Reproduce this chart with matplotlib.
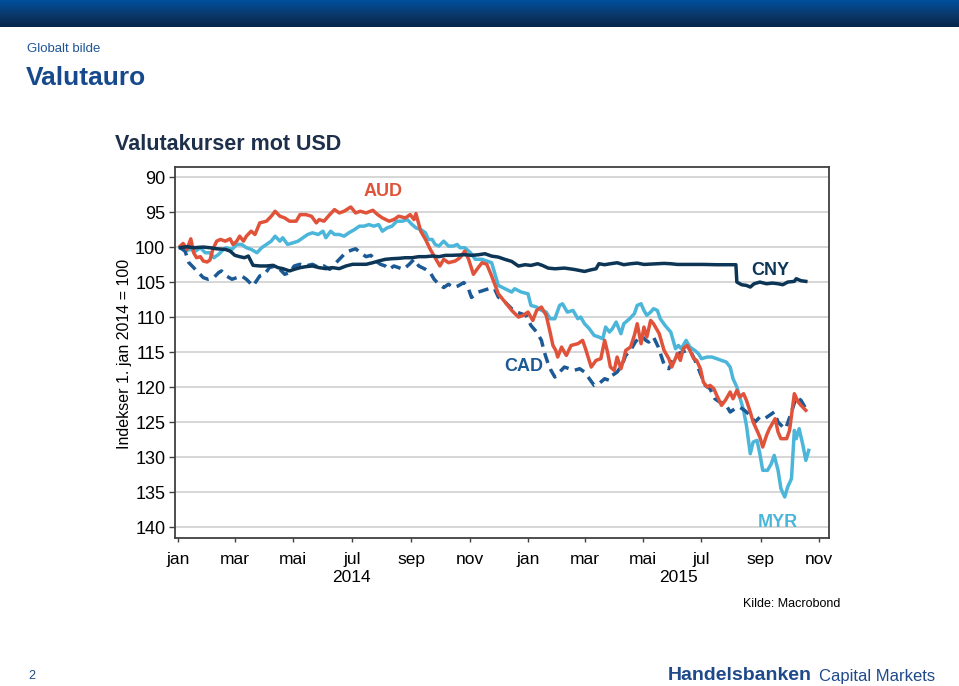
import numpy as np
import matplotlib
matplotlib.use('Agg')
import matplotlib.pyplot as plt
import matplotlib.dates as mdates
from matplotlib.colors import LinearSegmentedColormap

plt.rcParams['font.family'] = ['Liberation Sans', 'DejaVu Sans']

# ---------------- data (days since 1 jan 2014, index 1 jan 2014 = 100) ----------------
aud_days = [2, 5, 9, 13, 16, 19, 23, 26, 30, 33, 36, 40, 44, 49, 54, 57, 61, 64, 68, 71,
            76, 80, 85, 92, 97, 101, 106, 111, 116, 123, 127, 133, 139, 144, 147, 152, 158, 163, 168, 173,
            180, 185, 190, 196, 203, 208, 213, 220, 225, 230, 237, 242, 246, 248, 253, 258, 263, 268, 273, 277,
            282, 289, 294, 299, 303, 308, 313, 317, 322, 327,
            334, 341, 348, 355, 360, 365, 370, 374, 379, 384, 388, 391, 394, 396, 400, 405, 410, 417, 422, 425,
            431, 436, 441, 445, 448, 451, 455, 458, 462, 465, 467, 472, 476, 479, 483, 486, 489, 493, 496, 502,
            507, 512, 515, 521, 524, 527, 531, 534, 538, 541, 545, 548, 552, 555, 559, 562, 567, 571, 576, 579,
            583, 586, 590, 593, 597, 600, 604, 607, 610, 614, 617, 623, 626, 629, 635, 638, 643, 647, 650, 655]
aud_vals = [99.86, 99.48, 100.33, 98.82, 100.81, 101.52, 101.37, 101.99, 102.13, 101.85,
            100.33, 99.15, 98.91, 99.15, 98.82, 99.62, 99.15, 98.44, 99.15, 98.44,
            97.73, 98.2, 96.54, 96.3, 95.59, 94.88, 95.59, 95.83, 96.3, 96.3,
            95.36, 95.36, 95.59, 96.54, 96.07, 96.3, 95.36, 94.64, 95.12, 94.88,
            94.27, 95.12, 94.88, 95.12, 94.74, 95.36, 95.83, 96.3, 96.07, 95.59,
            95.83, 95.36, 96.07, 95.21, 97.73, 98.91, 100.33, 101.52, 102.7, 101.75,
            102.23, 101.99, 101.52, 100.57, 101.75, 103.89, 102.94, 102.23, 102.46, 104.12,
            106.67, 107.86, 109.05, 110, 109.76, 109.29, 110.48, 109.05, 108.57, 109.76,
            112.14, 114.05, 114.76, 115.71, 114.29, 115.48, 114.05, 113.81, 113.33, 114.52,
            117.14, 116.19, 115.95, 113.33, 115, 117.14, 117.62, 115.71, 117.38, 115.95,
            114.76, 114.29, 112.62, 110.95, 113.81, 111.43, 112.86, 110.48, 110.95, 112.38,
            114.76, 115.95, 117.14, 115.24, 116.19, 114.52, 114.05, 114.76, 115.95, 116.19,
            117.38, 119.29, 120, 119.76, 120.24, 121.19, 122.62, 121.9, 120.71, 121.67,
            120.48, 121.43, 120.95, 121.9, 123.57, 125, 126.19, 127.14, 128.57, 126.9,
            125.95, 124.52, 126.43, 127.38, 127.38, 126.19, 120.95, 122.14, 122.62, 123.33]

myr_days = [2, 7, 12, 18, 23, 28, 33, 37, 42, 47, 50, 56, 61, 66, 71, 76, 82, 87, 92, 97,
            101, 106, 109, 114, 120, 125, 130, 135, 140, 146, 151, 154, 159, 163, 168, 173, 178, 184, 189, 194,
            199, 204, 209, 213, 218, 223, 228, 234, 239, 244, 248, 253, 258, 261, 265, 268, 272, 277, 282, 287,
            291, 294, 299, 305, 310, 317, 322, 327,
            334, 341, 348, 351, 358, 365, 368, 374, 379, 384, 388, 393, 398, 401, 406, 412, 417, 420, 424, 429,
            434, 439, 443, 446, 450, 453, 457, 462, 465, 471, 476, 479, 483, 486, 489, 493, 496, 500, 503, 508,
            514, 519, 522, 525, 530, 534, 539, 543, 546, 552, 557, 562, 567, 572, 576, 579, 583, 586, 590, 593,
            597, 600, 604, 607, 610, 615, 619, 622, 626, 629, 633, 636, 640, 643, 645, 648, 652, 655, 658]
myr_vals = [100.09, 100.57, 100.33, 100.57, 100.09, 100.81, 100.81, 101.52, 101.04, 100.33,
            100.09, 100.33, 99.62, 99.62, 100.09, 100.33, 100.81, 100.09, 99.62, 99.15,
            98.44, 99.15, 98.67, 99.62, 99.38, 99.15, 98.67, 98.2, 97.96, 98.2,
            97.73, 98.67, 97.73, 98.2, 98.2, 98.44, 97.96, 97.49, 97.01, 97.01,
            96.78, 97.01, 96.78, 97.73, 97.25, 97.01, 96.3, 96.3, 96.07, 96.78,
            97.25, 97.49, 97.96, 98.91, 98.91, 99.62, 99.86, 99.15, 99.86, 99.86,
            99.62, 100.09, 100.09, 100.81, 101.75, 101.75, 101.99, 102.23,
            105.48, 105.95, 106.43, 105.95, 106.43, 106.67, 108.33, 108.57, 109.05, 109.29,
            110.24, 110.24, 108.33, 108.1, 109.29, 109.05, 110.24, 110, 110.95, 111.67,
            112.62, 112.86, 113.1, 111.43, 112.14, 111.67, 110.71, 112.38, 110.95, 110.24,
            109.52, 108.33, 108.1, 109.05, 109.76, 109.29, 108.81, 109.05, 110.24, 111.19,
            112.14, 114.52, 114.05, 114.52, 113.33, 114.29, 114.76, 115.24, 115.95, 115.71,
            115.71, 115.95, 116.19, 116.43, 117.14, 118.81, 120, 121.43, 123.33, 125.48,
            129.52, 127.86, 127.62, 129.52, 131.9, 131.9, 130.95, 129.76, 131.9, 134.52,
            135.71, 134.29, 133.1, 126.19, 127.38, 125.95, 128.33, 130.48, 129.05]

cny_days = [2, 9, 16, 26, 33, 40, 49, 54, 59, 64, 69, 73, 78, 85, 92, 99, 104, 109, 116, 121,
            127, 133, 140, 147, 154, 161, 168, 175, 182, 189, 196, 203, 209, 216, 223, 230, 237, 244, 251, 258,
            265, 272, 279, 285, 292, 299, 306,
            313, 320, 327, 334, 341, 348, 355, 362, 368, 375, 380, 386, 393, 403, 413, 424, 431, 436, 439, 445,
            451, 458, 465, 472, 479, 486, 493, 500, 507, 514, 521, 534, 548, 562, 576, 582, 583, 588, 593, 597,
            601, 607, 614, 620, 626, 631, 636, 643, 645, 650, 655]
cny_vals = [100.09, 99.95, 100.09, 100, 100.09, 100.24, 100.33, 100.57, 101.18, 101.37,
            101.52, 101.28, 102.61, 102.7, 102.7, 102.61, 102.94, 103.08, 103.41, 103.18,
            102.94, 102.8, 102.7, 102.94, 103.08, 102.94, 103.08, 102.7, 102.46, 102.46,
            102.46, 102.23, 101.99, 101.75, 101.66, 101.61, 101.52, 101.52, 101.37, 101.37,
            101.28, 101.37, 101.18, 101.18, 101.14, 101.09, 101.18,
            101.1, 100.95, 101.29, 101.43, 101.76, 102.05, 102.71, 102.52, 102.62, 102.38,
            102.62, 103, 103.1, 103, 103.19, 103.48, 103.24, 103.1, 102.38, 102.52,
            102.38, 102.24, 102.52, 102.38, 102.29, 102.48, 102.43, 102.38, 102.33, 102.38,
            102.48, 102.48, 102.48, 102.52, 102.52, 102.52, 105, 105.38, 105.48, 105.71,
            105.24, 105, 105.24, 105.14, 105.24, 105.38, 105, 104.9, 104.52, 104.81, 104.9]

cad_days = [2, 7, 11, 16, 21, 26, 31, 37, 42, 45, 50, 56, 61, 66, 71, 78, 85, 90, 95, 101,
            106, 111, 116, 121, 127, 133, 140, 147, 152, 158, 163, 168, 173, 178, 185, 190, 196, 201, 206, 211,
            216, 220, 225, 230, 235, 241, 246, 251, 258, 263, 267, 272, 277, 282, 287, 292, 298, 303, 306,
            313, 324, 330, 334, 341, 348, 353, 358, 363, 368, 374, 379, 382, 386, 389, 393, 398, 403, 408, 413,
            419, 424, 429, 434, 439, 445, 450, 453, 458, 463, 467, 472, 477, 483, 488, 491, 496, 501, 505, 508,
            512, 517, 521, 526, 531, 536, 541, 545, 550, 555, 560, 565, 571, 576, 581, 586, 591, 597, 602, 607,
            612, 617, 622, 626, 631, 634, 640, 645, 650, 654, 657]
cad_vals = [100.09, 100.57, 102.23, 102.94, 103.65, 104.36, 104.6, 104.36, 103.65, 103.41,
            104.12, 104.6, 104.36, 104.12, 104.6, 105.55, 104.12, 103.89, 102.94, 102.7,
            103.18, 103.89, 103.65, 102.7, 102.46, 102.7, 102.46, 102.94, 102.7, 103.18,
            102.46, 101.75, 101.04, 100.57, 100.24, 100.81, 101.37, 101.18, 101.99, 102.46,
            102.7, 103.18, 102.7, 102.94, 103.18, 102.46, 101.75, 102.7, 103.18, 103.65,
            104.6, 105.31, 105.78, 105.31, 105.78, 105.55, 105.07, 106.02, 107.2,
            106.43, 105.95, 105.95, 107.14, 107.86, 108.81, 109.29, 109.52, 109.76, 111.19,
            112.14, 113.33, 115, 116.67, 117.62, 118.57, 117.86, 117.14, 117.38, 117.62,
            117.38, 117.86, 118.81, 119.76, 119.52, 118.81, 119.05, 118.33, 117.86, 116.9,
            115.48, 114.76, 113.57, 112.62, 113.33, 113.57, 112.86, 114.29, 115.95, 117.14,
            117.38, 115.95, 115.24, 115, 114.76, 115.24, 116.67, 118.1, 119.76, 120.24,
            121.67, 122.14, 122.38, 123.57, 123.1, 122.86, 123.33, 124.05, 125, 124.29,
            124.52, 124.05, 123.57, 125, 125.71, 125.95, 123.57, 121.43, 121.9, 122.86, 123.57]

tick_dates = ['2014-01-01', '2014-03-01', '2014-05-01', '2014-07-01', '2014-09-01', '2014-11-01',
              '2015-01-01', '2015-03-01', '2015-05-01', '2015-07-01', '2015-09-01', '2015-11-01']
tick_labels = ['jan', 'mar', 'mai', 'jul', 'sep', 'nov', 'jan', 'mar', 'mai', 'jul', 'sep', 'nov']
year_labels = ['2014', '2015']
y_ticks = [90, 95, 100, 105, 110, 115, 120, 125, 130, 135, 140]

# ---------------- figure ----------------
W, H = 959, 686
fig = plt.figure(figsize=(W / 100, H / 100), dpi=100)
fig.patch.set_facecolor('white')


def fx(x):
    return x / W


def fy(y):
    return 1 - y / H


# header bar
hax = fig.add_axes([0, fy(27), 1, 27 / H])
cmap = LinearSegmentedColormap.from_list('hdr', ['#004f9e', '#0a3a6e', '#06264a'])
hax.imshow(np.linspace(0, 1, 60).reshape(-1, 1), aspect='auto', cmap=cmap, extent=[0, 1, 0, 1])
hax.axis('off')

fig.text(fx(27), fy(49), 'Globalt bilde', fontsize=9.5, color='#1f5597', va='center', ha='left')
fig.text(fx(26), fy(78), 'Valutauro', fontsize=19, fontweight='bold', color='#164a8c', va='center', ha='left')
fig.text(fx(115), fy(145), 'Valutakurser mot USD', fontsize=15.5, fontweight='bold', color='#1d2f4a',
         va='center', ha='left')

ax = fig.add_axes([fx(175), fy(538), (829.3 - 175) / W, (538 - 167.3) / H])

base = np.datetime64('2014-01-01')
x0 = mdates.date2num(base)


def to_x(days):
    return x0 + np.asarray(days, dtype=float)


c_aud = '#e0533a'
c_myr = '#4bb6da'
c_cny = '#0c3556'
c_cad = '#1c5a96'

ax.plot(to_x(myr_days), myr_vals, color=c_myr, lw=2.5, zorder=3)
ax.plot(to_x(cad_days), cad_vals, color=c_cad, lw=2.5, ls=(0, (3, 1.9)), zorder=3)
ax.plot(to_x(aud_days), aud_vals, color=c_aud, lw=2.5, zorder=4)
ax.plot(to_x(cny_days), cny_vals, color=c_cny, lw=2.5, zorder=5)

ax.set_xlim(x0 - 3.5, x0 + 679.5)
ax.set_ylim(141.57, 88.6)

ax.set_yticks(y_ticks)
ax.set_yticklabels([str(v) for v in y_ticks])
ax.yaxis.grid(True, color='#cfcfcf', lw=1.2)
ax.set_axisbelow(True)

tx = [mdates.date2num(np.datetime64(d)) for d in tick_dates]
ax.set_xticks(tx)
ax.set_xticklabels(tick_labels)
ax.tick_params(axis='x', length=3, width=1, colors='#404040', labelcolor='black', labelsize=12.5, pad=7)
ax.tick_params(axis='y', length=4, width=1, colors='#404040', labelcolor='black', labelsize=13, pad=3)

for s in ax.spines.values():
    s.set_color('#404040')
    s.set_linewidth(1.3)

# year labels centred on each year's visible span
xl = ax.get_xlim()
x2015 = mdates.date2num(np.datetime64('2015-01-01'))
for lab, (a, b) in zip(year_labels, [(xl[0], x2015), (x2015, xl[1])]):
    ax.text((a + b) / 2, (538 - 578) / (538 - 167.3), lab, transform=ax.get_xaxis_transform(),
            ha='center', va='center', fontsize=12.5)

fig.text(fx(124), fy(354), 'Indekser 1. jan 2014 = 100', rotation=90, fontsize=11.5,
         ha='center', va='center')

# series labels
ax.text(x0 + 213.7, 92.1, 'AUD', color=c_aud, fontsize=13, fontweight='bold', ha='center', va='center')
ax.text(x0 + 617.6, 103.3, 'CNY', color=c_cny, fontsize=13, fontweight='bold', ha='center', va='center')
ax.text(x0 + 360.9, 117.0, 'CAD', color=c_cad, fontsize=13, fontweight='bold', ha='center', va='center')
ax.text(x0 + 626.0, 139.4, 'MYR', color=c_myr, fontsize=13, fontweight='bold', ha='center', va='center')

fig.text(fx(840), fy(604), 'Kilde: Macrobond', fontsize=9, ha='right', va='center')

# footer
fig.text(fx(28), fy(676), '2', fontsize=9, color='#1f4a8a', ha='left', va='center')
fig.text(fx(668), fy(676), 'Handelsbanken', fontsize=14, fontweight='bold', color='#1f4a8a',
         ha='left', va='center')
fig.text(fx(819), fy(677), 'Capital Markets', fontsize=12, color='#1f4a8a', ha='left', va='center')

fig.savefig('out.png', dpi=100, facecolor='white')
